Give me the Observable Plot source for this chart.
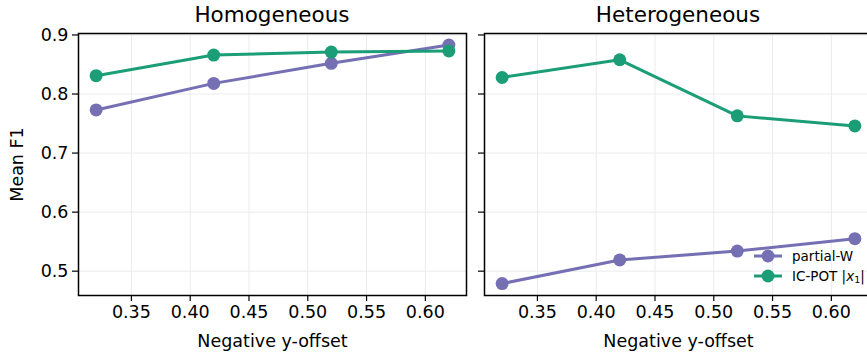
<!DOCTYPE html>
<html><head><meta charset="utf-8">
<script src="https://cdn.jsdelivr.net/npm/d3@7"></script>
<script src="https://cdn.jsdelivr.net/npm/@observablehq/plot@0.6"></script>
<style>
html,body{margin:0;padding:0;background:#fff;overflow:hidden;width:867px;height:356px}
#wrap{position:relative;width:867px;height:356px;overflow:hidden;font-family:"DejaVu Sans",sans-serif;color:#000}
.panel{position:absolute;top:0}
.panel svg{max-width:none !important;display:block}
.title{height:26px;font-size:21.5px;line-height:29px;text-align:center;white-space:nowrap;color:#000}
.legend{position:absolute;left:752px;top:246px;font-size:13.5px}
.legend .row{display:flex;align-items:center;height:20px}
.legend span{margin-left:8px;white-space:nowrap}
.legend sub{font-size:9.5px;vertical-align:-2px;font-style:normal}
</style></head>
<body><div id="wrap"></div>
<script>
const xOffsets = [0.32, 0.42, 0.52, 0.62];
const seriesNames = ["partial-W", "IC-POT |x1|"];
const seriesColors = ["#7570b3", "#1b9e77"];
const panelTitles = ["Homogeneous", "Heterogeneous"];
const homPartialW = [0.773, 0.818, 0.852, 0.883];
const homICPOT    = [0.831, 0.866, 0.871, 0.873];
const hetPartialW = [0.479, 0.519, 0.534, 0.555];
const hetICPOT    = [0.828, 0.858, 0.763, 0.746];
const xTicks = [0.35, 0.40, 0.45, 0.50, 0.55, 0.60];
const yTicks = [0.5, 0.6, 0.7, 0.8, 0.9];

const wrap = document.getElementById("wrap");

function rowsOf(vals, name) {
  return xOffsets.map((x, i) => ({x, y: vals[i], s: name}));
}

function makePanel(title, pw, ic, cfg) {
  const a = rowsOf(pw, seriesNames[0]);
  const b = rowsOf(ic, seriesNames[1]);
  const plotW = 388;
  const W = cfg.marginLeft + plotW + cfg.marginRight;
  const chart = Plot.plot({
    width: W,
    height: 330,
    marginLeft: cfg.marginLeft,
    marginRight: cfg.marginRight,
    marginTop: 7,
    marginBottom: 61,
    style: {fontFamily: "DejaVu Sans, sans-serif", fontSize: "17.5px", color: "#000", background: "transparent", overflow: "visible", maxWidth: "none"},
    x: {domain: [0.305, 0.635]},
    y: {domain: [0.4588, 0.9025]},
    color: {domain: seriesNames, range: seriesColors},
    marks: [
      Plot.gridX(xTicks, {stroke: "#ebebeb", strokeOpacity: 1, strokeWidth: 1}),
      Plot.gridY(yTicks, {stroke: "#ebebeb", strokeOpacity: 1, strokeWidth: 1}),
      Plot.axisX(xTicks, {tickFormat: d => d.toFixed(2), tickSize: 6, tickPadding: 4, stroke: "#000", strokeWidth: 1.2, label: "Negative y-offset", labelAnchor: "center", labelArrow: "none", labelOffset: 51, fontSize: 17.5}),
      Plot.axisY(yTicks, {tickFormat: cfg.showY ? (d => d.toFixed(1)) : (() => ""), tickSize: 6, tickPadding: 4, stroke: "#000", strokeWidth: 1.2, label: cfg.showY ? "Mean F1" : null, labelAnchor: "center", labelArrow: "none", labelOffset: 68, fontSize: 17.5}),
      Plot.line(a, {x: "x", y: "y", stroke: "s", strokeWidth: 3}),
      Plot.dot(a, {x: "x", y: "y", fill: "s", r: 6.5}),
      Plot.line(b, {x: "x", y: "y", stroke: "s", strokeWidth: 3}),
      Plot.dot(b, {x: "x", y: "y", fill: "s", r: 6.5}),
      Plot.frame({stroke: "#000", strokeWidth: 1.5})
    ]
  });
  const div = document.createElement("div");
  div.className = "panel";
  div.style.left = cfg.left + "px";
  div.style.width = W + "px";
  const t = document.createElement("div");
  t.className = "title";
  t.style.marginLeft = cfg.marginLeft + "px";
  t.style.width = plotW + "px";
  t.textContent = title;
  div.appendChild(t);
  div.appendChild(chart);
  wrap.appendChild(div);
}

makePanel(panelTitles[0], homPartialW, homICPOT, {left: 0, marginLeft: 78, marginRight: 9, showY: true});
makePanel(panelTitles[1], hetPartialW, hetICPOT, {left: 475, marginLeft: 9, marginRight: 6, showY: false});

// legend
const leg = document.createElement("div");
leg.className = "legend";
seriesNames.forEach((name, i) => {
  const row = document.createElement("div");
  row.className = "row";
  const ns = "http://www.w3.org/2000/svg";
  const s = document.createElementNS(ns, "svg");
  s.setAttribute("width", 32); s.setAttribute("height", 20);
  const ln = document.createElementNS(ns, "line");
  ln.setAttribute("x1", 2); ln.setAttribute("x2", 30); ln.setAttribute("y1", 10); ln.setAttribute("y2", 10);
  ln.setAttribute("stroke", seriesColors[i]); ln.setAttribute("stroke-width", 3);
  const c = document.createElementNS(ns, "circle");
  c.setAttribute("cx", 16); c.setAttribute("cy", 10); c.setAttribute("r", 6.5); c.setAttribute("fill", seriesColors[i]);
  s.appendChild(ln); s.appendChild(c);
  row.appendChild(s);
  const sp = document.createElement("span");
  if (name.includes("|x1|")) {
    sp.innerHTML = "IC-POT |<i>x</i><sub>1</sub>|";
  } else {
    sp.textContent = name;
  }
  row.appendChild(sp);
  leg.appendChild(row);
});
wrap.appendChild(leg);
</script>
</body></html>
